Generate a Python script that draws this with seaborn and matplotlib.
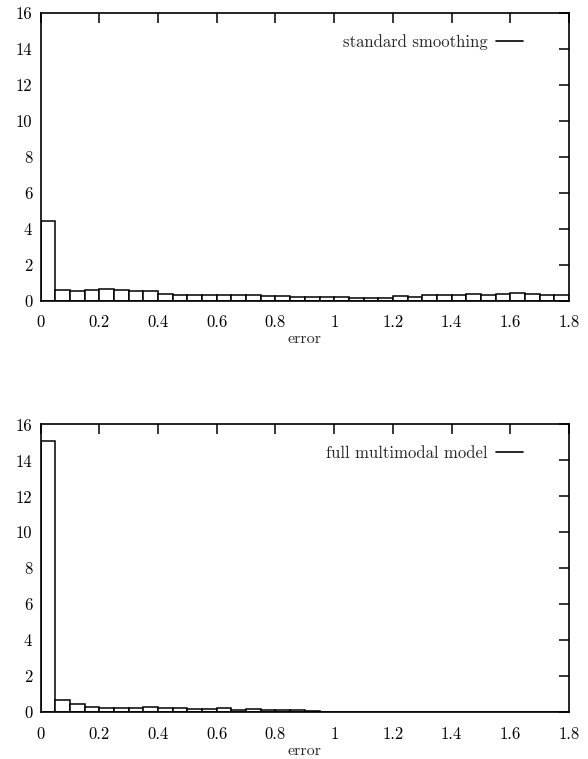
import numpy as np
import pandas as pd
import matplotlib
matplotlib.use("Agg")
import matplotlib.pyplot as plt
from matplotlib.ticker import FuncFormatter
import seaborn as sns

# ---- data (histogram bin heights, bin width 0.05 over 0..1.8) ----
bin_width = 0.05
x_max = 1.8
standard_smoothing = [4.45, 0.60, 0.55, 0.58, 0.65, 0.60, 0.55, 0.55, 0.40, 0.30,
                      0.32, 0.32, 0.33, 0.33, 0.30, 0.27, 0.25, 0.20, 0.18, 0.18,
                      0.19, 0.16, 0.17, 0.17, 0.28, 0.22, 0.32, 0.33, 0.30, 0.37,
                      0.32, 0.38, 0.45, 0.40, 0.33, 0.30]
full_multimodal = [15.1, 0.70, 0.47, 0.29, 0.22, 0.24, 0.24, 0.27, 0.25, 0.22,
                   0.16, 0.16, 0.25, 0.12, 0.20, 0.12, 0.15, 0.13, 0.05, 0.02,
                   0.02, 0.01, 0.01, 0.01, 0.02, 0.03, 0.03, 0.03, 0.02, 0.01,
                   0.01, 0.01, 0.02, 0.02, 0.01, 0.01]
series_labels = ["standard smoothing", "full multimodal model"]
x_label = "error"
x_ticks = [0, 0.2, 0.4, 0.6, 0.8, 1.0, 1.2, 1.4, 1.6, 1.8]
y_ticks = [0, 2, 4, 6, 8, 10, 12, 14, 16]

sns.set_style("white")
plt.rcParams["font.family"] = ["cmr10", "DejaVu Serif"]
plt.rcParams["axes.formatter.use_mathtext"] = True
plt.rcParams["font.size"] = 11

fig = plt.figure(figsize=(5.88, 7.59), dpi=100)
ax_top = fig.add_axes([0.0692, 0.6038, 0.8985, 0.3787])
ax_bot = fig.add_axes([0.0692, 0.0615, 0.8985, 0.3794])

n_bins = len(standard_smoothing)
centers = (np.arange(n_bins) + 0.5) * bin_width

for ax, vals, lab in [(ax_top, standard_smoothing, series_labels[0]),
                      (ax_bot, full_multimodal, series_labels[1])]:
    df = pd.DataFrame({"error": centers, "h": vals})
    sns.histplot(data=df, x="error", weights="h", binwidth=bin_width,
                 binrange=(0, x_max), stat="count", fill=True,
                 color="white", edgecolor="black", linewidth=1.1,
                 alpha=1.0, ax=ax)
    ax.plot([], [], color="black", linewidth=1.2, label=lab)
    ax.set_xlim(0, x_max)
    ax.set_ylim(0, 16)
    ax.set_xticks(x_ticks)
    ax.set_yticks(y_ticks)
    ax.xaxis.set_major_formatter(FuncFormatter(lambda v, p: "%g" % round(v, 2)))
    ax.yaxis.set_major_formatter(FuncFormatter(lambda v, p: "%g" % v))
    ax.tick_params(direction="in", top=True, right=True, length=7, width=1.1,
                   labelsize=12, colors="black")
    ax.tick_params(axis="x", pad=10)
    ax.tick_params(axis="y", pad=6)
    ax.set_xlabel(x_label, fontsize=11.5, labelpad=2)
    ax.set_ylabel("")
    for s in ax.spines.values():
        s.set_linewidth(1.2)
        s.set_color("black")
    ax.legend(loc="upper right", frameon=False, markerfirst=False,
              handlelength=1.6, handletextpad=0.5, fontsize=12,
              bbox_to_anchor=(0.925, 0.95), borderaxespad=0)

fig.savefig("out.png", dpi=100)
